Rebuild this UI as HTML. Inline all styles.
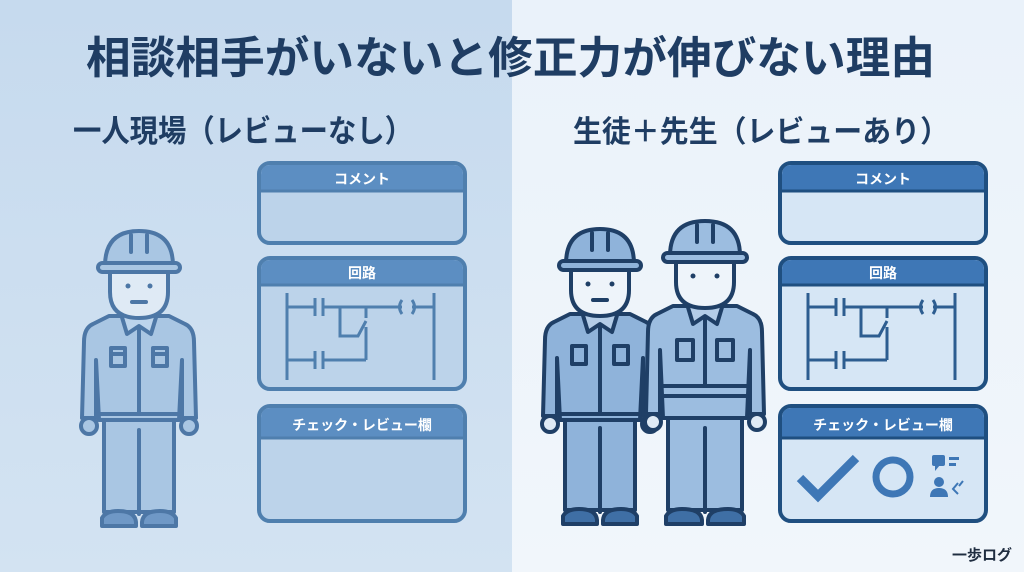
<!DOCTYPE html>
<html><head><meta charset="utf-8"><style>
html,body{margin:0;padding:0;width:1024px;height:572px;overflow:hidden}
text{font-family:"Liberation Sans","Noto Sans CJK JP",sans-serif;font-weight:bold}
</style></head><body>
<svg width="1024" height="572" viewBox="0 0 1024 572" xmlns="http://www.w3.org/2000/svg">
<defs>
<linearGradient id="lg" x1="0" y1="0" x2="0" y2="1"><stop offset="0" stop-color="#c6daee"/><stop offset="1" stop-color="#d3e3f2"/></linearGradient>
<linearGradient id="rg" x1="0" y1="0" x2="0" y2="1"><stop offset="0" stop-color="#eaf2fa"/><stop offset="1" stop-color="#f1f6fb"/></linearGradient>
</defs>
<rect x="0" y="0" width="512" height="572" fill="url(#lg)"/>
<rect x="512" y="0" width="512" height="572" fill="url(#rg)"/>

<text x="86" y="73" font-size="44" fill="#1f3d63" textLength="849" lengthAdjust="spacingAndGlyphs">相談相手がいないと修正力が伸びない理由</text>
<text x="73" y="142" font-size="31" fill="#1f3d63" textLength="340" lengthAdjust="spacingAndGlyphs">一人現場（レビューなし）</text>
<text x="573" y="142" font-size="30" fill="#1f3d63" textLength="376" lengthAdjust="spacingAndGlyphs">生徒＋先生（レビューあり）</text>

<g transform="translate(139,230)" stroke="#4d77a6" stroke-width="4" stroke-linejoin="round" stroke-linecap="round" fill="#a9c6e3">
 <path d="M-35 188 L-35 282 L35 282 L35 188 Z"/>
 <line x1="0" y1="200" x2="0" y2="284"/>
 <path d="M-37 296 L-37 288 Q-33 281 -21 281 Q-4 281 -3 292 L-3 296 Z M37 296 L37 288 Q33 281 21 281 Q4 281 3 292 L3 296 Z" fill="#6f98c6"/>
 <path d="M-30 86 L-46 94 Q-55 98 -55 112 L-57 188 L-43 188 L-43 130 L-40 190 L40 190 L43 130 L43 188 L57 188 L55 112 Q55 98 46 94 L30 86 Z"/>
 <line x1="-40" y1="184" x2="40" y2="184"/>
 <line x1="0" y1="100" x2="0" y2="184"/>
 <path d="M-18 84 L-12 104 L0 96 L12 104 L18 84" fill="#bcd4ec"/>
 <rect x="-28" y="118" width="14" height="18"/><rect x="14" y="118" width="14" height="18"/>
 <line x1="-28" y1="124" x2="-14" y2="124"/><line x1="14" y1="124" x2="28" y2="124"/>
 <circle cx="-50" cy="196" r="8"/><circle cx="50" cy="196" r="8"/>
 <path d="M-29 40 L-29 62 Q-29 88 0 88 Q29 88 29 62 L29 40 Z" fill="#dfeaf5"/>
 <circle cx="-11" cy="56" r="2.5" fill="#4d77a6" stroke="none"/><circle cx="11" cy="56" r="2.5" fill="#4d77a6" stroke="none"/>
 <line x1="-7" y1="72" x2="7" y2="72"/>
 <path d="M-34 36 Q-34 1 0 1 Q34 1 34 36 Z"/>
 <line x1="-8" y1="5" x2="-8" y2="22"/><line x1="8" y1="5" x2="8" y2="22"/>
 <rect x="-41" y="33" width="82" height="9" rx="4.5"/>
</g>

<g transform="translate(600,228)" stroke="#1f3f66" stroke-width="4" stroke-linejoin="round" stroke-linecap="round" fill="#8fb3da">
 <path d="M-35 188 L-35 282 L35 282 L35 188 Z"/>
 <line x1="0" y1="200" x2="0" y2="284"/>
 <path d="M-37 296 L-37 288 Q-33 281 -21 281 Q-4 281 -3 292 L-3 296 Z M37 296 L37 288 Q33 281 21 281 Q4 281 3 292 L3 296 Z" fill="#3f6fa5"/>
 <path d="M-30 86 L-46 94 Q-55 98 -55 112 L-57 188 L-43 188 L-43 130 L-40 192 L40 192 L43 130 L43 188 L57 188 L55 112 Q55 98 46 94 L30 86 Z"/>
 <line x1="-40" y1="186" x2="40" y2="186"/>
 <line x1="0" y1="100" x2="0" y2="186"/>
 <path d="M-18 84 L-12 104 L0 96 L12 104 L18 84" fill="#b4cde8"/>
 <rect x="-28" y="118" width="14" height="18"/><rect x="14" y="118" width="14" height="18"/>
 <circle cx="-50" cy="196" r="8" fill="#dfeaf5"/><circle cx="50" cy="196" r="8" fill="#dfeaf5"/>
 <path d="M-29 40 L-29 62 Q-29 88 0 88 Q29 88 29 62 L29 40 Z" fill="#eef4fa"/>
 <circle cx="-12" cy="56" r="2.5" fill="#1f3f66" stroke="none"/><circle cx="12" cy="56" r="2.5" fill="#1f3f66" stroke="none"/>
 <line x1="-7" y1="72" x2="7" y2="72"/>
 <path d="M-34 36 Q-34 1 0 1 Q34 1 34 36 Z"/>
 <line x1="-8" y1="5" x2="-8" y2="22"/><line x1="8" y1="5" x2="8" y2="22"/>
 <rect x="-41" y="33" width="82" height="9" rx="4.5"/>
</g>

<g transform="translate(705,220)" stroke="#1f3f66" stroke-width="4" stroke-linejoin="round" stroke-linecap="round" fill="#9cbde0">
 <path d="M-37 196 L-37 290 L37 290 L37 196 Z"/>
 <line x1="0" y1="208" x2="0" y2="292"/>
 <path d="M-39 304 L-39 296 Q-35 289 -23 289 Q-4 289 -3 300 L-3 304 Z M39 304 L39 296 Q35 289 23 289 Q4 289 3 300 L3 304 Z" fill="#3f6fa5"/>
 <path d="M-32 86 L-48 94 Q-57 98 -57 112 L-59 194 L-45 194 L-45 130 L-42 198 L42 198 L45 130 L45 194 L59 194 L57 112 Q57 98 48 94 L32 86 Z"/>
 <line x1="-42" y1="166" x2="42" y2="166"/><line x1="-42" y1="176" x2="42" y2="176"/>
 <line x1="0" y1="100" x2="0" y2="166"/>
 <path d="M-18 84 L-12 104 L0 96 L12 104 L18 84" fill="#b4cde8"/>
 <rect x="-28" y="120" width="16" height="20"/><rect x="12" y="120" width="16" height="20"/>
 <circle cx="-52" cy="202" r="8" fill="#dfeaf5"/><circle cx="52" cy="202" r="8" fill="#dfeaf5"/>
 <path d="M-29 40 L-29 62 Q-29 88 0 88 Q29 88 29 62 L29 40 Z" fill="#eef4fa"/>
 <circle cx="-12" cy="56" r="2.5" fill="#1f3f66" stroke="none"/><circle cx="12" cy="56" r="2.5" fill="#1f3f66" stroke="none"/>
 <path d="M-35 36 Q-35 1 0 1 Q35 1 35 36 Z"/>
 <line x1="-8" y1="5" x2="-8" y2="22"/><line x1="8" y1="5" x2="8" y2="22"/>
 <rect x="-42" y="33" width="84" height="9" rx="4.5"/>
</g>

<!-- Left panels -->
<g stroke="#4f7fae" stroke-width="4" fill="#bcd3ea">
 <rect x="259" y="163" width="206" height="80" rx="11"/>
 <rect x="259" y="258" width="206" height="131" rx="11"/>
 <rect x="259" y="406" width="206" height="115" rx="11"/>
</g>
<g fill="#5c8ec2">
 <path d="M261 175 Q261 165 271 165 L453 165 Q463 165 463 175 L463 191 L261 191 Z"/>
 <path d="M261 270 Q261 260 271 260 L453 260 Q463 260 463 270 L463 285 L261 285 Z"/>
 <path d="M261 418 Q261 408 271 408 L453 408 Q463 408 463 418 L463 438 L261 438 Z"/>
</g>
<g stroke="#4f7fae" stroke-width="3"><line x1="261" y1="191" x2="463" y2="191"/><line x1="261" y1="285" x2="463" y2="285"/><line x1="261" y1="438" x2="463" y2="438"/></g>
<g font-size="14" fill="#ffffff" text-anchor="middle">
 <text x="362" y="184">コメント</text><text x="362" y="278">回路</text><text x="362" y="430">チェック・レビュー欄</text>
</g>
<g stroke="#4f7fae" stroke-width="3" fill="none">
 <line x1="287" y1="293" x2="287" y2="380"/><line x1="434" y1="293" x2="434" y2="380"/>
 <path d="M287 307 H315 M315 298 V316 M323 298 V316 M323 307 H402 M412 307 H434"/>
 <path d="M402 300 Q397 307 402 314 M412 300 Q417 307 412 314"/>
 <path d="M340 307 V336 H358 L366 321 M366 307 V318 M366 327 V360"/>
 <path d="M287 360 H315 M315 351 V369 M323 351 V369 M323 360 H366"/>
</g>

<!-- Right panels -->
<g stroke="#1f4f80" stroke-width="4" fill="#d6e6f5">
 <rect x="780" y="163" width="206" height="80" rx="11"/>
 <rect x="780" y="258" width="206" height="131" rx="11"/>
 <rect x="780" y="406" width="206" height="115" rx="11"/>
</g>
<g fill="#3e77b6">
 <path d="M782 175 Q782 165 792 165 L974 165 Q984 165 984 175 L984 191 L782 191 Z"/>
 <path d="M782 270 Q782 260 792 260 L974 260 Q984 260 984 270 L984 285 L782 285 Z"/>
 <path d="M782 418 Q782 408 792 408 L974 408 Q984 408 984 418 L984 438 L782 438 Z"/>
</g>
<g stroke="#1f4f80" stroke-width="3"><line x1="782" y1="191" x2="984" y2="191"/><line x1="782" y1="285" x2="984" y2="285"/><line x1="782" y1="438" x2="984" y2="438"/></g>
<g font-size="14" fill="#ffffff" text-anchor="middle">
 <text x="883" y="184">コメント</text><text x="883" y="278">回路</text><text x="883" y="430">チェック・レビュー欄</text>
</g>
<g stroke="#2d5d90" stroke-width="3" fill="none">
 <line x1="808" y1="293" x2="808" y2="380"/><line x1="955" y1="293" x2="955" y2="380"/>
 <path d="M808 307 H836 M836 298 V316 M844 298 V316 M844 307 H923 M933 307 H955"/>
 <path d="M923 300 Q918 307 923 314 M933 300 Q938 307 933 314"/>
 <path d="M861 307 V336 H879 L887 321 M887 307 V318 M887 327 V360"/>
 <path d="M808 360 H836 M836 351 V369 M844 351 V369 M844 360 H887"/>
</g>
<g fill="#3e77b6" stroke="#3e77b6">
 <path d="M800 478 L818 496 L856 458" fill="none" stroke-width="9"/>
 <circle cx="893" cy="477" r="17" fill="none" stroke-width="7"/>
 <rect x="932" y="455" width="13" height="11" rx="2" stroke="none"/><path d="M935 465 L935 471 L940 465 Z" stroke="none"/>
 <rect x="949" y="457" width="10" height="3" stroke="none"/><rect x="949" y="463" width="7" height="3" stroke="none"/>
 <circle cx="939" cy="482" r="5" stroke="none"/><path d="M930 497 Q930 488 939 488 Q948 488 948 497 Z" stroke="none"/>
 <path d="M958 483 L953 489 L958 494 M963 481 L959 486" fill="none" stroke-width="2"/>
</g>

<text x="952" y="560" font-size="15" fill="#1f2d40">一歩ログ</text>
</svg>
</body></html>
